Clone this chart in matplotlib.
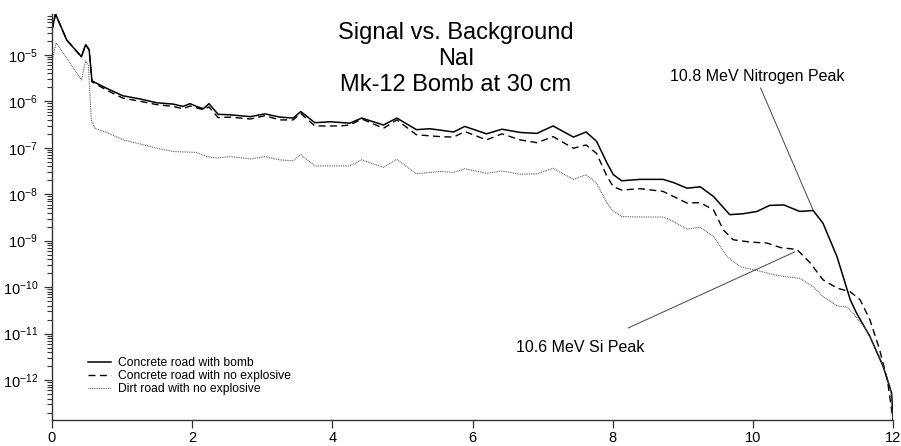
import matplotlib
matplotlib.use("Agg")
import matplotlib.pyplot as plt
import numpy as np
from matplotlib.ticker import LogLocator, FixedLocator, FuncFormatter

plt.rcParams['font.family'] = ['Liberation Sans', 'DejaVu Sans']
plt.rcParams['mathtext.fontset'] = 'custom'
plt.rcParams['mathtext.rm'] = 'Liberation Sans'
plt.rcParams['mathtext.it'] = 'Liberation Sans'

# Energy (MeV) and log10 of counts for each spectrum
bomb_energy = [0.00, 0.05, 0.21, 0.42, 0.48, 0.53, 0.57, 0.78, 1.01, 1.26, 1.49, 1.73, 1.87,
               1.97, 2.08, 2.16, 2.24, 2.37, 2.54, 2.83, 3.04, 3.25, 3.44, 3.55, 3.75, 3.97,
               4.25, 4.42, 4.73, 4.92, 5.20, 5.39, 5.54, 5.73, 5.89, 6.20, 6.42, 6.68, 6.92,
               7.15, 7.44, 7.62, 7.77, 7.92, 8.01, 8.13, 8.39, 8.72, 8.87, 9.06, 9.25, 9.44,
               9.67, 9.86, 10.06, 10.24, 10.44, 10.67, 10.86, 11.00, 11.20, 11.39, 11.48,
               11.67, 11.86, 11.98, 12.00]
bomb_log10 = [-4.46, -4.12, -4.68, -5.04, -4.78, -4.89, -5.56, -5.72, -5.88, -5.95, -6.03, -6.06,
              -6.11, -6.05, -6.12, -6.16, -6.05, -6.28, -6.29, -6.33, -6.27, -6.34, -6.36, -6.22,
              -6.46, -6.44, -6.47, -6.36, -6.51, -6.36, -6.61, -6.59, -6.62, -6.66, -6.54, -6.70,
              -6.60, -6.67, -6.69, -6.53, -6.77, -6.66, -6.86, -7.33, -7.58, -7.71, -7.68, -7.68,
              -7.75, -7.87, -7.84, -8.05, -8.44, -8.42, -8.37, -8.24, -8.23, -8.37, -8.35, -8.62,
              -9.34, -10.27, -10.56, -11.06, -11.71, -12.28, -12.85]

concrete_energy = [0.00, 0.05, 0.21, 0.42, 0.48, 0.53, 0.57, 0.78, 1.01, 1.26, 1.49, 1.73, 1.87,
                   1.97, 2.16, 2.24, 2.37, 2.54, 2.83, 3.04, 3.25, 3.44, 3.55, 3.75, 4.11, 4.25,
                   4.42, 4.73, 4.92, 5.20, 5.54, 5.73, 5.89, 6.20, 6.42, 6.68, 6.92, 7.15, 7.44,
                   7.62, 7.77, 7.92, 8.01, 8.13, 8.39, 8.72, 8.87, 9.06, 9.25, 9.44, 9.58, 9.72,
                   9.96, 10.20, 10.40, 10.63, 10.82, 11.00, 11.20, 11.39, 11.53, 11.67, 11.81,
                   11.92, 12.00]
concrete_log10 = [-4.46, -4.12, -4.68, -5.04, -4.78, -4.89, -5.58, -5.76, -5.93, -6.00, -6.07,
                  -6.11, -6.16, -6.10, -6.18, -6.12, -6.35, -6.34, -6.38, -6.31, -6.40, -6.40,
                  -6.26, -6.53, -6.53, -6.51, -6.38, -6.58, -6.40, -6.72, -6.76, -6.77, -6.65,
                  -6.83, -6.70, -6.83, -6.89, -6.76, -7.01, -6.94, -7.12, -7.62, -7.84, -7.91,
                  -7.88, -7.94, -8.05, -8.19, -8.18, -8.34, -8.77, -8.98, -9.03, -9.05, -9.15,
                  -9.19, -9.48, -9.84, -10.02, -10.10, -10.27, -10.70, -11.35, -12.00, -12.85]

dirt_energy = [0.00, 0.06, 0.21, 0.42, 0.48, 0.52, 0.56, 0.61, 0.78, 1.02, 1.26, 1.49, 1.73,
               2.06, 2.21, 2.35, 2.54, 2.83, 3.04, 3.25, 3.44, 3.55, 3.75, 4.25, 4.42, 4.73,
               4.92, 5.20, 5.54, 5.73, 5.89, 6.20, 6.42, 6.68, 6.92, 7.15, 7.44, 7.62, 7.77,
               7.92, 8.01, 8.13, 8.39, 8.72, 8.87, 9.06, 9.25, 9.44, 9.63, 9.82, 10.06, 10.29,
               10.44, 10.67, 10.86, 11.00, 11.20, 11.34, 11.43, 11.62, 11.81, 11.96, 12.00]
dirt_log10 = [-5.11, -4.74, -5.07, -5.54, -5.13, -5.22, -6.40, -6.58, -6.67, -6.83, -6.92, -7.01,
              -7.08, -7.10, -7.19, -7.22, -7.19, -7.24, -7.19, -7.26, -7.28, -7.15, -7.39, -7.39,
              -7.26, -7.42, -7.25, -7.56, -7.51, -7.53, -7.45, -7.55, -7.50, -7.57, -7.56, -7.44,
              -7.68, -7.58, -7.76, -8.19, -8.37, -8.48, -8.49, -8.49, -8.59, -8.75, -8.71, -8.91,
              -9.34, -9.56, -9.64, -9.73, -9.77, -9.81, -9.99, -10.20, -10.40, -10.43, -10.56,
              -10.92, -11.50, -12.14, -12.85]

series_labels = ["Concrete road with bomb", "Concrete road with no explosive",
                 "Dirt road with no explosive"]
title_lines = ["Signal vs. Background", "NaI", "Mk-12 Bomb at 30 cm"]
x_ticks = [0, 2, 4, 6, 8, 10, 12]
y_decades = [-12, -11, -10, -9, -8, -7, -6, -5]

fig = plt.figure(figsize=(9.01, 4.46), dpi=100)
ax = fig.add_axes([52 / 901, 26 / 446, 841 / 901, 406 / 446])

ax.plot(bomb_energy, np.power(10.0, bomb_log10), color='black', lw=1.1,
        solid_joinstyle='round', label=series_labels[0])
ax.plot(concrete_energy, np.power(10.0, concrete_log10), color='black', lw=1.0,
        dashes=(5, 3.2), dash_joinstyle='round', label=series_labels[1])
ax.plot(dirt_energy, np.power(10.0, dirt_log10), color='#555555', lw=0.8,
        linestyle=(0, (0.8, 0.8)), label=series_labels[2])

ax.set_yscale('log')
ax.set_xlim(0, 12)
ax.set_ylim(10 ** -12.86, 10 ** -4.12)

ax.xaxis.set_major_locator(FixedLocator(x_ticks))
ax.yaxis.set_major_locator(FixedLocator([10.0 ** d for d in y_decades]))
ax.yaxis.set_major_formatter(FuncFormatter(lambda v, p: r"$10^{%d}$" % round(np.log10(v))))
ax.yaxis.set_minor_locator(LogLocator(base=10, subs=np.arange(2, 10), numticks=30))
ax.yaxis.set_minor_formatter(FuncFormatter(lambda v, p: ""))

for side in ('top', 'right'):
    ax.spines[side].set_visible(False)
for side in ('left', 'bottom'):
    ax.spines[side].set_linewidth(1.0)
    ax.spines[side].set_color('#333333')
ax.tick_params(axis='both', which='major', direction='out', length=6, width=0.9,
               colors='#333333', labelsize=10.5, labelcolor='black')
ax.tick_params(axis='y', which='minor', direction='out', length=3.5, width=0.8, colors='#333333')
ax.tick_params(axis='x', pad=2.0)
ax.tick_params(axis='y', pad=4)

for i, line in enumerate(title_lines):
    ax.text(0.4804, 0.953 - i * 0.064, line, transform=ax.transAxes, ha='center',
            va='center', fontsize=17)

# Peak labels with leader lines
ax.text(10.06, 10 ** -5.47, "10.8 MeV Nitrogen Peak", ha='center', va='center', fontsize=11.5)
ax.annotate("", xy=(10.86, 10 ** -8.34), xytext=(10.11, 10 ** -5.71),
            arrowprops=dict(arrowstyle='-', color='#444444', lw=0.7, shrinkA=0, shrinkB=0))
ax.text(7.53, 10 ** -11.29, "10.6 MeV Si Peak", ha='center', va='center', fontsize=11.5)
ax.annotate("", xy=(10.60, 10 ** -9.24), xytext=(8.22, 10 ** -10.88),
            arrowprops=dict(arrowstyle='-', color='#444444', lw=0.7, shrinkA=0, shrinkB=0))

ax.legend(loc='lower left', bbox_to_anchor=(0.037, 0.05), frameon=False, fontsize=8.7,
          handlelength=1.9, handletextpad=0.6, labelspacing=0.08, borderaxespad=0)

fig.savefig("out.png", dpi=100)
